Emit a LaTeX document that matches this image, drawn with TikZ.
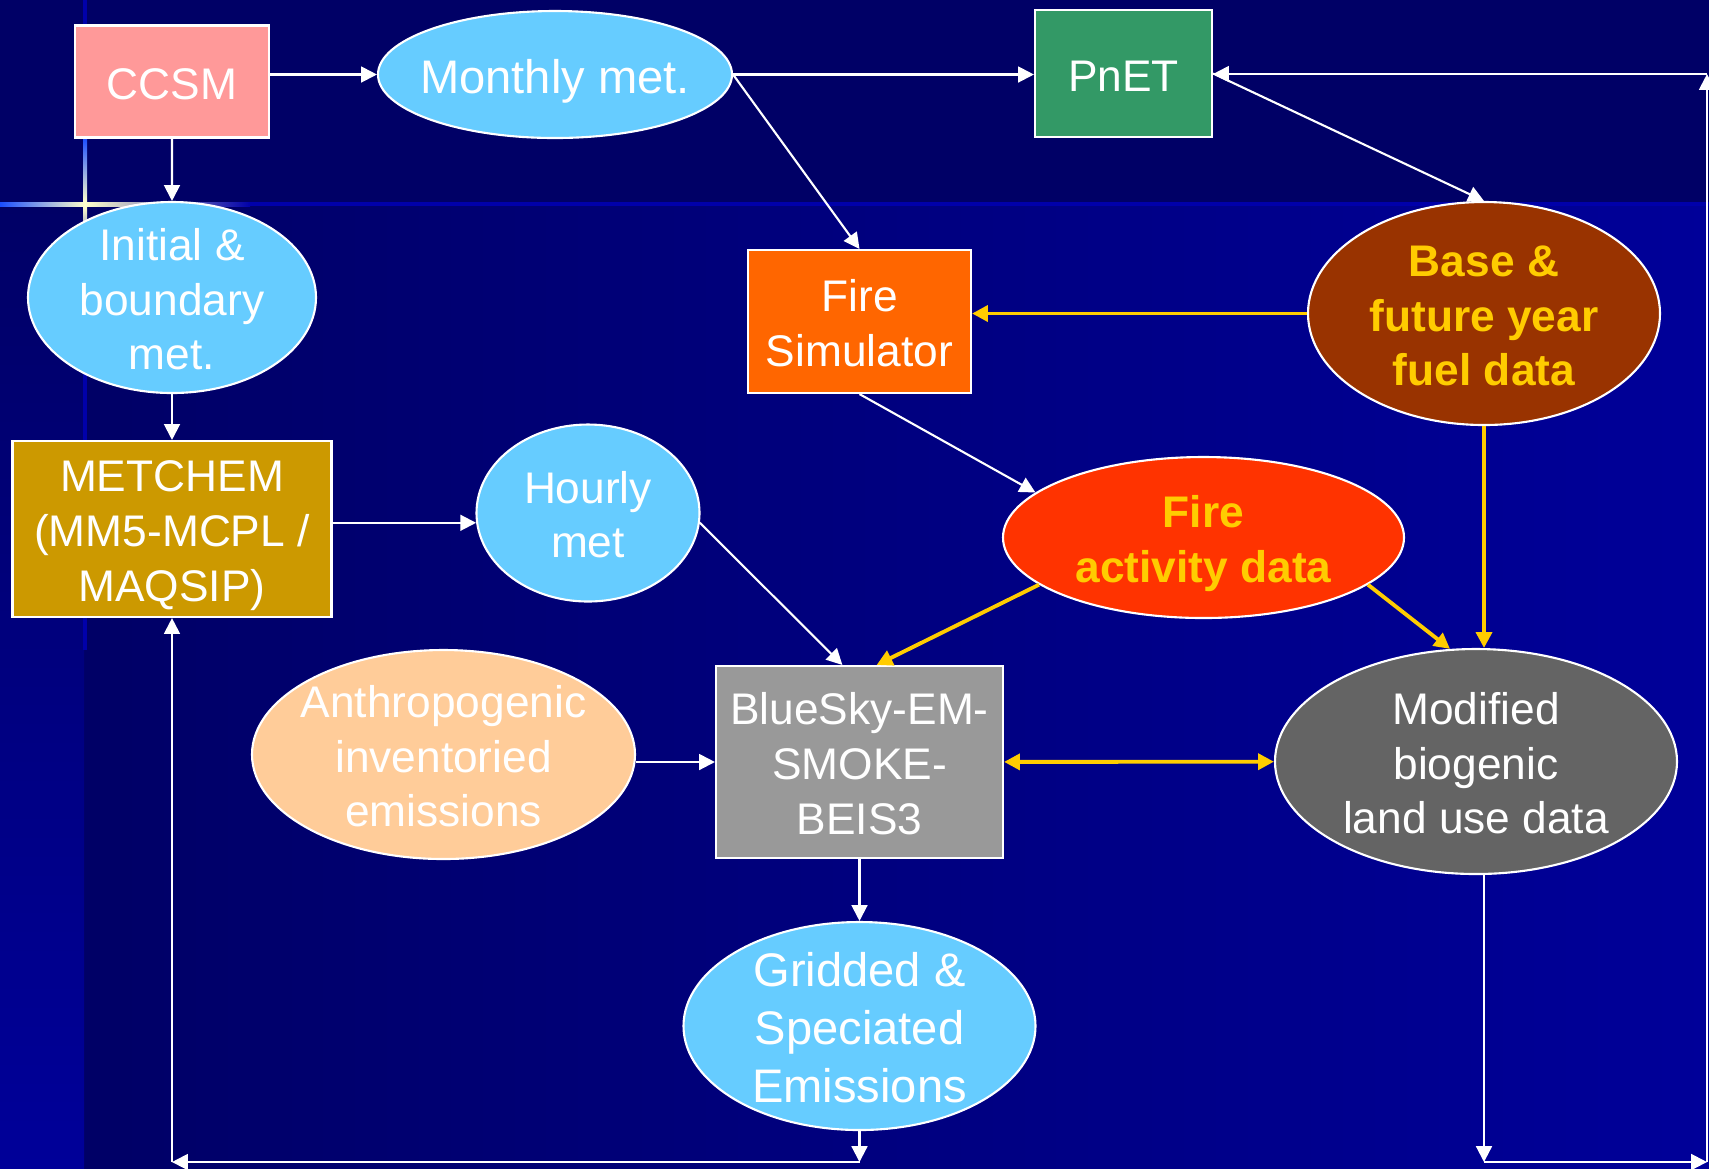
\documentclass[tikz,border=0pt]{standalone}
\usepackage{fontspec}
\setmainfont{Liberation Sans}
\usetikzlibrary{shapes.geometric,arrows.meta}
\definecolor{bgdark}{HTML}{000066}
\definecolor{bgblue}{HTML}{000099}
\definecolor{bgline}{HTML}{0000AA}
\definecolor{brightblue}{HTML}{1A4DFF}
\definecolor{paleyellow}{HTML}{FFFFCC}
\definecolor{skyfill}{HTML}{66CCFF}
\definecolor{ccsmfill}{HTML}{FF9999}
\definecolor{pnetfill}{HTML}{339966}
\definecolor{firefill}{HTML}{FF6600}
\definecolor{fuelfill}{HTML}{993300}
\definecolor{metfill}{HTML}{CC9900}
\definecolor{actfill}{HTML}{FF3300}
\definecolor{anthfill}{HTML}{FFCC99}
\definecolor{bsfill}{HTML}{999999}
\definecolor{biofill}{HTML}{646464}
\definecolor{gold}{HTML}{FFCC00}
\begin{document}
\begin{tikzpicture}[x=1cm, y=-1cm,
    box/.style={draw=white, line width=0.6pt, text=white, text width=3.6cm, align=flush center,
        inner xsep=-2cm, inner ysep=-0.8cm, font=\fontsize{12.6}{15.6}\selectfont,
        execute at begin node={\rule{0pt}{1.04em}}, execute at end node={\rule[-0.25em]{0pt}{0.25em}}},
    oval/.style={box, ellipse},
    arr/.style={draw=white, line width=0.6pt, -{Triangle[length=4.5pt,width=4.5pt]}},
    goldarr/.style={draw=gold, line width=1.1pt, -{Triangle[length=4.5pt,width=4.5pt]}}]
    \useasboundingbox (0,0) rectangle (17.09,11.68);
    % slide background
    \fill[bgdark] (0,0) rectangle (17.09,11.68);
    \shade[left color=bgdark, right color=bgblue] (0.84,2.04) rectangle (17.09,11.68);
    \shade[top color=bgdark, bottom color=bgblue] (0,2.04) rectangle (0.84,11.68);
    \fill[bgline] (0.83,0) rectangle (0.87,1.38);
    \shade[top color=brightblue, bottom color=paleyellow] (0.83,1.38) rectangle (0.87,2.02);
    \shade[top color=paleyellow, bottom color=bgline] (0.83,2.06) rectangle (0.87,2.7);
    \fill[bgline] (0.83,2.7) rectangle (0.87,6.5);
    \shade[left color=brightblue, right color=paleyellow] (0,2.02) rectangle (0.85,2.06);
    \shade[left color=paleyellow, right color=bgline] (0.85,2.02) rectangle (2.5,2.06);
    \fill[bgline] (2.5,2.02) rectangle (17.09,2.06);

    \node[box, fill=ccsmfill, minimum width=1.94cm, minimum height=1.12cm] (ccsm) at (1.72,0.815) {CCSM};
    \node[oval, fill=skyfill, minimum width=3.54cm, minimum height=1.27cm, font=\fontsize{13.4}{16.4}\selectfont] (monthly) at (5.55,0.745) {Monthly met.};
    \node[box, fill=pnetfill, minimum width=1.77cm, minimum height=1.27cm] (pnet) at (11.235,0.735) {PnET};
    \node[oval, fill=skyfill, minimum width=2.88cm, minimum height=1.91cm] (initial) at (1.72,2.975) {Initial \&\\boundary\\met.};
    \node[box, fill=firefill, minimum width=2.23cm, minimum height=1.43cm] (firesim) at (8.595,3.215) {Fire\\Simulator};
    \node[oval, fill=fuelfill, minimum width=3.52cm, minimum height=2.23cm, text=gold, font=\fontsize{12.6}{15.6}\selectfont\bfseries] (fuel) at (14.84,3.135) {Base \&\\future year\\fuel data};
    \node[box, fill=metfill, minimum width=3.19cm, minimum height=1.76cm] (metchem) at (1.72,5.29) {METCHEM\\(MM5-MCPL /\\MAQSIP)};
    \node[oval, fill=skyfill, minimum width=2.23cm, minimum height=1.77cm] (hourly) at (5.88,5.13) {Hourly\\met};
    \node[oval, fill=actfill, minimum width=4.01cm, minimum height=1.61cm, text=gold, font=\fontsize{12.6}{15.6}\selectfont\bfseries] (fireact) at (12.035,5.375) {Fire\\activity data};
    \node[oval, fill=anthfill, minimum width=3.83cm, minimum height=2.09cm] (anthro) at (4.435,7.545) {Anthropogenic\\inventoried\\emissions};
    \node[box, fill=bsfill, minimum width=2.87cm, minimum height=1.92cm] (bluesky) at (8.595,7.62) {BlueSky-EM-\\SMOKE-\\BEIS3};
    \node[oval, fill=biofill, minimum width=4.02cm, minimum height=2.25cm] (biogenic) at (14.76,7.615) {Modified\\biogenic\\land use data};
    \node[oval, fill=skyfill, minimum width=3.52cm, minimum height=2.08cm, font=\fontsize{13.4}{16.4}\selectfont] (gridded) at (8.595,10.26) {Gridded \&\\Speciated\\Emissions};

    \coordinate (gridbot) at (8.595,11.62);
    \coordinate (metbot) at (1.72,11.62);
    \coordinate (biobot) at (14.84,11.62);
    \coordinate (rightbot) at (17.07,11.62);
    \coordinate (righttop) at (17.07,0.74);

    \draw[arr] (ccsm.east |- monthly.west) -- (monthly.west);
    \draw[arr] (ccsm) -- (initial);
    \draw[arr] (monthly.east) -- (monthly.east -| pnet.west);
    \draw[arr] (monthly.east) -- (firesim.north);
    \draw[arr] (pnet.east) -- (fuel.north);
    \draw[goldarr] (fuel.west) -- (fuel.west -| firesim.east);
    \draw[goldarr] (fuel.south) -- (fuel.south |- biogenic.north);
    \draw[arr] (firesim.south) -- (fireact.165);
    \draw[arr] (initial) -- (metchem);
    \draw[arr] (hourly.185 -| metchem.east) -- (hourly.185);
    \draw[arr] (hourly.355) -- (bluesky.100);
    \draw[goldarr] (fireact.196) -- (bluesky.80);
    \draw[goldarr] (fireact.344) -- (biogenic.103);
    \draw[arr] (bluesky.west -| anthro.east) -- (bluesky.west);
    \draw[goldarr, {Triangle[length=4.5pt,width=4.5pt]}-{Triangle[length=4.5pt,width=4.5pt]}] (bluesky) -- (biogenic);
    \draw[arr] (bluesky) -- (gridded);
    \draw[arr] (gridded) -- (gridbot);
    \draw[arr] (gridbot) -- (metbot);
    \draw[arr] (metbot) -- (metchem);
    \draw[arr] (biogenic.south -| biobot) -- (biobot);
    \draw[arr] (biobot) -- (rightbot);
    \draw[arr] (rightbot) -- (righttop);
    \draw[arr] (righttop) -- (righttop -| pnet.east);
\end{tikzpicture}
\end{document}
